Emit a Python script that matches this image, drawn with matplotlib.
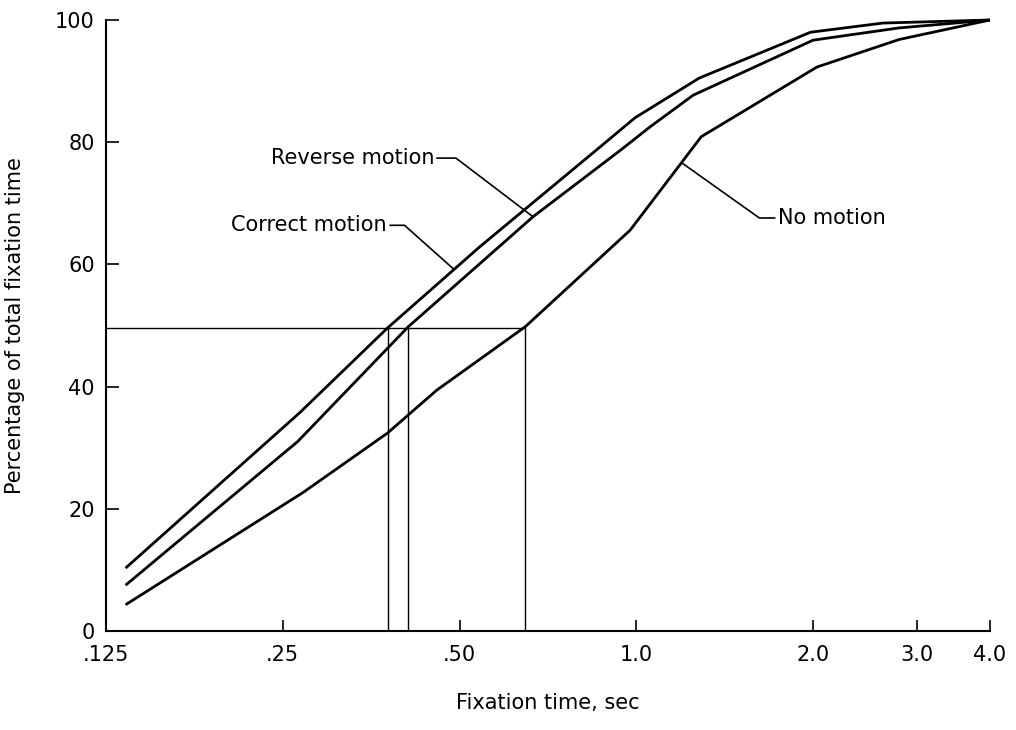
import matplotlib
matplotlib.use("Agg")
import matplotlib.pyplot as plt

plt.rcParams['font.family'] = ['Liberation Sans Narrow', 'DejaVu Sans']

# fixation time (sec) and cumulative percentage
correct_x = [0.135, 0.267, 0.377, 0.487, 0.54, 0.867, 0.995, 1.28, 1.98, 2.63, 4.0]
correct_y = [10.3, 35.7, 49.6, 59.0, 62.8, 79.2, 84.0, 90.5, 98.0, 99.5, 100]

reverse_x = [0.135, 0.265, 0.409, 0.667, 0.94, 1.055, 1.25, 2.0, 2.8, 4.0]
reverse_y = [7.5, 31.0, 49.8, 67.8, 78.7, 82.5, 87.7, 96.7, 98.7, 100]

nomotion_x = [0.135, 0.271, 0.377, 0.457, 0.647, 0.976, 1.29, 2.03, 2.8, 4.0]
nomotion_y = [4.3, 22.7, 32.4, 39.4, 49.8, 65.6, 80.9, 92.3, 96.8, 100]

# median (50 percent) fixation times
median_level = 49.6
median_x = [0.377, 0.409, 0.647]

xticks = [0.125, 0.25, 0.5, 1.0, 2.0, 3.0, 4.0]
xtick_labels = ['.125', '.25', '.50', '1.0', '2.0', '3.0', '4.0']
yticks = [0, 20, 40, 60, 80, 100]

fig = plt.figure(figsize=(10.16, 7.3), dpi=100)
ax = fig.add_axes([0.1043, 0.1356, 0.870, 0.837])

lw = 2.0
for xs, ys in [(correct_x, correct_y), (reverse_x, reverse_y), (nomotion_x, nomotion_y)]:
    ax.plot(xs, ys, color='black', lw=lw, solid_capstyle='butt', clip_on=False)

# 50 percent guide lines
ax.plot([0.125, median_x[-1]], [median_level, median_level], color='black', lw=1.0)
for mx in median_x:
    ax.plot([mx, mx], [0, median_level], color='black', lw=1.0)

# leader lines and labels
ax.plot([1.196, 1.62, 1.72], [76.6, 67.6, 67.6], color='black', lw=1.2)
ax.text(1.74, 67.6, 'No motion', ha='left', va='center', fontsize=15)

ax.plot([0.667, 0.493, 0.458], [67.8, 77.4, 77.4], color='black', lw=1.2)
ax.text(0.454, 77.4, 'Reverse motion', ha='right', va='center', fontsize=15)

ax.plot([0.489, 0.403, 0.381], [59.2, 66.4, 66.4], color='black', lw=1.2)
ax.text(0.376, 66.4, 'Correct motion', ha='right', va='center', fontsize=15)

ax.set_xscale('log', base=2)
ax.set_xlim(0.125, 4.0)
ax.set_ylim(0, 100)
ax.set_xticks(xticks)
ax.set_xticklabels(xtick_labels)
ax.minorticks_off()
ax.set_yticks(yticks)

for side in ['top', 'right']:
    ax.spines[side].set_visible(False)
for side in ['left', 'bottom']:
    ax.spines[side].set_linewidth(1.5)

ax.tick_params(axis='x', direction='in', length=8, width=1.2, pad=10, labelsize=15)
ax.tick_params(axis='y', direction='in', length=9, width=1.2, pad=8, labelsize=15)

ax.set_xlabel('Fixation time, sec', fontsize=15, labelpad=20)
ax.set_ylabel('Percentage of total fixation time', fontsize=15, labelpad=22)

fig.savefig('out.png', dpi=100)
